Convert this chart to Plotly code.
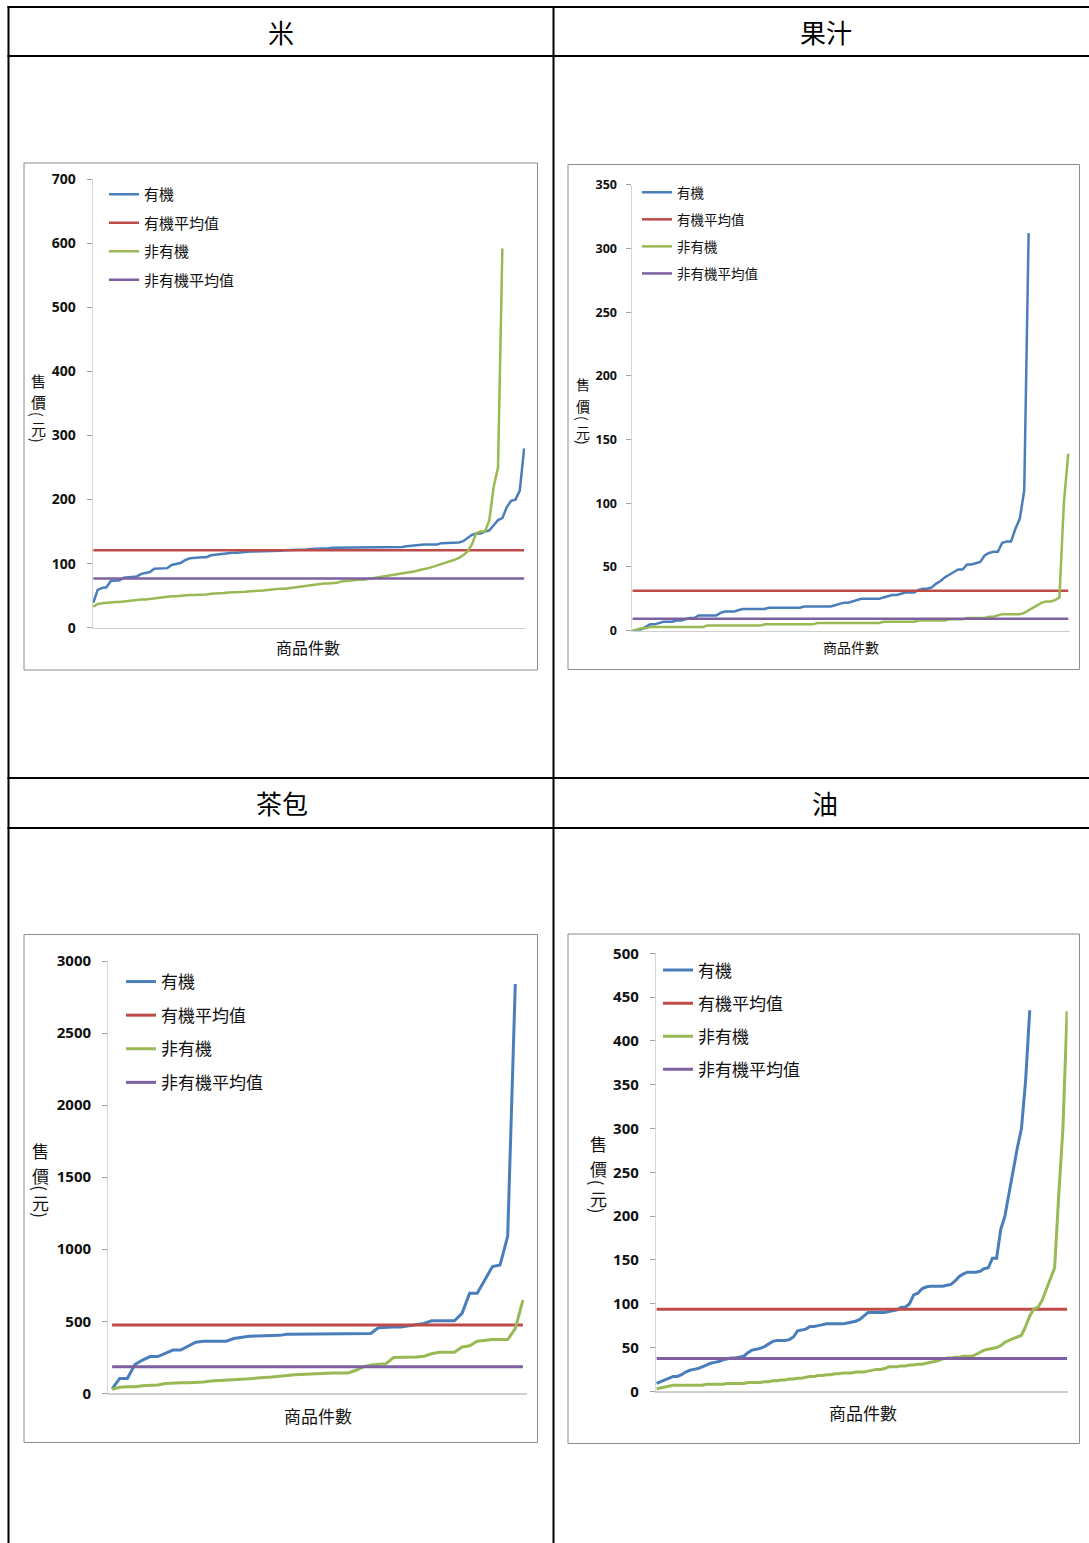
import plotly.graph_objects as go

W, H = 1089, 1543

# ---------------- data: selling prices (元), sorted ascending ----------------
panel_titles = ["米", "果汁", "茶包", "油"]
series_names = ["有機", "有機平均值", "非有機", "非有機平均值"]

rice_organic = [39, 59, 62, 63, 73, 73, 74, 78, 79, 79,
                80, 84, 85, 87, 92, 92, 92, 93, 98, 99,
                101, 105, 108, 109, 110, 110, 110, 113, 114, 115,
                116, 116, 117, 117, 118, 118, 119, 119, 119, 120,
                120, 120, 120, 120, 121, 121, 121, 121, 122, 122,
                123, 123, 123, 124, 124, 125, 125, 125, 125, 125,
                125, 125, 125, 125, 125, 125, 125, 125, 125, 125,
                125, 126, 127, 128, 129, 129, 130, 130, 130, 130,
                132, 132, 133, 133, 133, 135, 140, 145, 147, 147,
                150, 152, 160, 168, 171, 188, 198, 200, 214, 280]
rice_organic_avg = 121
rice_regular = [33, 37, 38, 39, 39, 40, 40, 41, 42, 42,
                43, 44, 44, 45, 45, 47, 48, 49, 49, 49,
                50, 50, 51, 51, 51, 52, 52, 53, 53, 54,
                54, 55, 55, 55, 55, 56, 57, 57, 58, 58,
                59, 60, 60, 61, 61, 62, 62, 63, 65, 66,
                67, 68, 68, 69, 69, 69, 70, 72, 73, 73,
                74, 75, 75, 76, 77, 78, 79, 80, 81, 82,
                83, 84, 85, 86, 88, 90, 91, 93, 95, 97,
                100, 102, 104, 106, 109, 113, 119, 130, 148, 150,
                150, 168, 220, 250, 592]
rice_regular_avg = 77

juice_organic = [0, 0, 1, 3, 5, 5, 6, 7, 7, 7,
                 8, 8, 9, 10, 10, 12, 12, 12, 12, 12,
                 14, 15, 15, 15, 16, 17, 17, 17, 17, 17,
                 17, 18, 18, 18, 18, 18, 18, 18, 18, 19,
                 19, 19, 19, 19, 19, 19, 20, 21, 22, 22,
                 23, 24, 25, 25, 25, 25, 25, 26, 27, 28,
                 28, 29, 30, 30, 30, 32, 33, 33, 34, 37,
                 39, 42, 44, 46, 48, 48, 52, 52, 53, 54,
                 59, 61, 62, 62, 69, 70, 70, 80, 88, 110,
                 312]
juice_organic_avg = 31.4
juice_regular = [0, 1, 2, 2, 3, 3, 3, 3, 3, 3,
                 3, 3, 3, 3, 3, 3, 3, 4, 4, 4,
                 4, 4, 4, 4, 4, 4, 4, 4, 4, 4,
                 5, 5, 5, 5, 5, 5, 5, 5, 5, 5,
                 5, 5, 6, 6, 6, 6, 6, 6, 6, 6,
                 6, 6, 6, 6, 6, 6, 6, 7, 7, 7,
                 7, 7, 7, 7, 7, 8, 8, 8, 8, 8,
                 8, 8, 9, 9, 9, 9, 10, 10, 10, 10,
                 10, 11, 11, 12, 13, 13, 13, 13, 13, 14,
                 16, 18, 20, 22, 23, 23, 24, 26, 100, 139]
juice_regular_avg = 9.3

tea_organic = [30, 103, 103, 200, 231, 255, 255, 275, 300, 300,
               330, 355, 362, 362, 362, 362, 380, 390, 396, 398,
               398, 400, 402, 410, 410, 410, 413, 415, 415, 415,
               415, 415, 415, 415, 415, 455, 460, 460, 460, 467,
               474, 485, 503, 503, 503, 503, 555, 695, 695, 790,
               880, 890, 1090, 2840]
tea_organic_avg = 474
tea_regular = [28, 42, 46, 46, 52, 53, 58, 68, 72, 73,
               73, 74, 78, 86, 90, 95, 97, 98, 101, 107,
               110, 113, 120, 123, 128, 131, 131, 134, 138, 141,
               141, 141, 158, 183, 197, 200, 206, 248, 248, 248,
               252, 257, 274, 285, 285, 285, 322, 330, 361, 368,
               373, 373, 373, 449, 646]
tea_regular_avg = 185

oil_organic = [9, 11, 13, 15, 17, 17, 19, 22, 24, 25,
               26, 28, 30, 32, 33, 34, 36, 37, 38, 38,
               39, 40, 44, 47, 48, 49, 51, 54, 57, 58,
               58, 58, 59, 62, 69, 70, 71, 74, 74, 75,
               76, 77, 77, 77, 77, 77, 78, 79, 80, 82,
               86, 90, 90, 90, 90, 90, 91, 92, 93, 96,
               96, 100, 110, 112, 117, 119, 120, 120, 120, 120,
               121, 122, 126, 131, 134, 136, 136, 136, 137, 140,
               141, 152, 152, 185, 200, 227, 255, 278, 300, 355,
               435]
oil_organic_avg = 93.6
oil_regular = [3, 4, 5, 6.5, 7, 7, 7, 7, 7, 7,
               7, 7, 8, 8, 8, 8, 8, 9, 9, 9,
               9, 9, 10, 10, 10, 10, 11, 11, 12, 12,
               13, 13, 14, 14, 15, 15, 16, 17, 17, 18,
               18, 19, 19, 20, 20, 21, 21, 21, 22, 22,
               22, 23, 24, 25, 25, 26, 28, 28, 28, 29,
               29, 30, 30, 31, 31, 32, 33, 34, 35, 37,
               38, 38, 39, 39, 40, 40, 40, 42, 45, 47,
               48, 49, 50, 52, 56, 58, 60, 62, 64, 74,
               86, 94, 96, 104, 116, 130, 141, 225, 300, 434]
oil_regular_avg = 37.5

y_max = [700, 350, 3000, 500]
y_step = [100, 50, 500, 50]

panel_data = [
    (rice_organic, rice_organic_avg, rice_regular, rice_regular_avg),
    (juice_organic, juice_organic_avg, juice_regular, juice_regular_avg),
    (tea_organic, tea_organic_avg, tea_regular, tea_regular_avg),
    (oil_organic, oil_organic_avg, oil_regular, oil_regular_avg),
]

# ---------------- page geometry (pixels) and styling ----------------
COLORS = ["#4A7EBB", "#BE4B48", "#98B954", "#7D60A0"]
CJK = "Noto Sans CJK TC"
NUM = "Open Sans"


def fx(p):
    return p / W


def fy(p):
    return 1 - p / H


layout_cfg = [
    dict(plot_x=(92.7, 525.0), plot_y=(627.7, 179.3), xpad=(-0.15, 0.2),
         frame=(24, 163, 537.5, 670), tick_size=14, standoff=8, lw=2.5,
         leg=(104, 178), leg_size=15, leg_gap=6,
         xtitle=(308, 647, 16),
         ytitle=(38.3, [380, 401.5, 414, 428, 440], 15),
         header=(281, 32)),
    dict(plot_x=(631.7, 1070.0), plot_y=(630.7, 184.7), xpad=(-0.2, 0.4),
         frame=(568, 164.5, 1079.5, 669.5), tick_size=12.5, standoff=6, lw=2.5,
         leg=(637, 177), leg_size=13.5, leg_gap=6.5,
         xtitle=(851, 647, 14),
         ytitle=(583, [384, 406, 418, 432, 442], 14),
         header=(826, 32)),
    dict(plot_x=(108.3, 526.7), plot_y=(1393.3, 961.0), xpad=(-0.5, 0.5),
         frame=(24, 934.5, 537.5, 1442.5), tick_size=15, standoff=8, lw=3,
         leg=(121, 964), leg_size=17, leg_gap=8.5,
         xtitle=(318, 1415, 17),
         ytitle=(40.7, [1150, 1175, 1188, 1202, 1215], 17),
         header=(282, 803)),
    dict(plot_x=(656.0, 1067.7), plot_y=(1391.3, 953.3), xpad=(-0.15, 0.15),
         frame=(568, 934, 1079.5, 1443.5), tick_size=15, standoff=8, lw=3,
         leg=(658, 952.5), leg_size=17, leg_gap=8,
         xtitle=(863, 1412, 17),
         ytitle=(598.3, [1143, 1168, 1183, 1198, 1211], 17),
         header=(825, 803)),
]

fig = go.Figure()
shapes = []
annotations = []
layout_extra = {}

for k, (cfg, data) in enumerate(zip(layout_cfg, panel_data)):
    idx = "" if k == 0 else str(k + 1)
    xa, ya = "x" + idx, "y" + idx
    leg_name = "legend" + idx
    organic, organic_avg, regular, regular_avg = data
    n_max = max(len(organic), len(regular))

    traces = [
        (list(range(len(organic))), organic),
        ([0, n_max - 1], [organic_avg, organic_avg]),
        (list(range(len(regular))), regular),
        ([0, n_max - 1], [regular_avg, regular_avg]),
    ]
    for j, (xs, ys) in enumerate(traces):
        fig.add_trace(go.Scatter(
            x=xs, y=ys, mode="lines", name=series_names[j],
            line=dict(color=COLORS[j], width=cfg["lw"]),
            xaxis=xa, yaxis=ya, legend=leg_name,
            legendgroup=f"p{k}s{j}", hoverinfo="skip",
        ))

    x0, x1 = cfg["plot_x"]
    yb, yt = cfg["plot_y"]
    layout_extra["xaxis" + idx] = dict(
        domain=[fx(x0), fx(x1)], anchor=ya,
        range=[cfg["xpad"][0], n_max - 1 + cfg["xpad"][1]],
        showline=True, linecolor="#cfcfcf", linewidth=1.2,
        showticklabels=False, ticks="", showgrid=False, zeroline=False,
        fixedrange=True, automargin=False,
    )
    layout_extra["yaxis" + idx] = dict(
        domain=[fy(yb), fy(yt)], anchor=xa,
        range=[0, y_max[k]],
        tickvals=list(range(0, y_max[k] + 1, y_step[k])),
        showline=True, linecolor="#d4d4d4", linewidth=1.2,
        ticks="outside", ticklen=5, tickwidth=1, tickcolor="#a0a0a0",
        tickfont=dict(family=NUM, size=cfg["tick_size"], color="#111", weight="bold"),
        ticklabelstandoff=cfg["standoff"],
        showgrid=False, zeroline=False, fixedrange=True, automargin=False,
    )
    lx, ly = cfg["leg"]
    layout_extra[leg_name] = dict(
        x=fx(lx), y=fy(ly), xanchor="left", yanchor="top",
        xref="paper", yref="paper",
        bgcolor="rgba(0,0,0,0)", borderwidth=0,
        font=dict(family=CJK, size=cfg["leg_size"], color="#111"),
        traceorder="grouped", tracegroupgap=cfg["leg_gap"],
        itemwidth=30, itemclick=False, itemdoubleclick=False,
    )

    # chart frame
    fx0, fy0, fx1, fy1 = cfg["frame"]
    shapes.append(dict(type="rect", xref="paper", yref="paper",
                       x0=fx(fx0), x1=fx(fx1), y0=fy(fy1), y1=fy(fy0),
                       line=dict(color="#8c8c8c", width=1), fillcolor="rgba(0,0,0,0)"))

    # x-axis title
    tx, ty, ts = cfg["xtitle"]
    annotations.append(dict(text="商品件數", x=fx(tx), y=fy(ty), xref="paper", yref="paper",
                            showarrow=False, xanchor="center", yanchor="middle",
                            font=dict(family=CJK, size=ts, color="#111")))

    # stacked vertical y-axis title 售價(元)
    vx, vys, vs = cfg["ytitle"]
    for ch, vy in zip(["售", "價", "(", "元", ")"], vys):
        annotations.append(dict(text=ch, x=fx(vx), y=fy(vy), xref="paper", yref="paper",
                                showarrow=False, xanchor="center", yanchor="middle",
                                textangle=90 if ch in "()" else 0,
                                font=dict(family=CJK, size=vs, color="#111")))

    # table header cell text
    hx, hy = cfg["header"]
    annotations.append(dict(text=panel_titles[k], x=fx(hx), y=fy(hy), xref="paper", yref="paper",
                            showarrow=False, xanchor="center", yanchor="middle",
                            font=dict(family=CJK, size=26, color="#000")))

# table rules
for yline in [7, 56, 778, 828]:
    shapes.append(dict(type="line", xref="paper", yref="paper",
                       x0=fx(7.5), x1=1, y0=fy(yline), y1=fy(yline),
                       line=dict(color="#000", width=2)))
for xline in [8.5, 553.5]:
    shapes.append(dict(type="line", xref="paper", yref="paper",
                       x0=fx(xline), x1=fx(xline), y0=fy(6), y1=0,
                       line=dict(color="#000", width=2)))

fig.update_layout(
    width=W, height=H,
    margin=dict(l=0, r=0, t=0, b=0, pad=0, autoexpand=False),
    paper_bgcolor="white", plot_bgcolor="white",
    showlegend=True,
    shapes=shapes, annotations=annotations,
    **layout_extra,
)

fig.write_html("out.html", config={"displayModeBar": False, "staticPlot": True})
